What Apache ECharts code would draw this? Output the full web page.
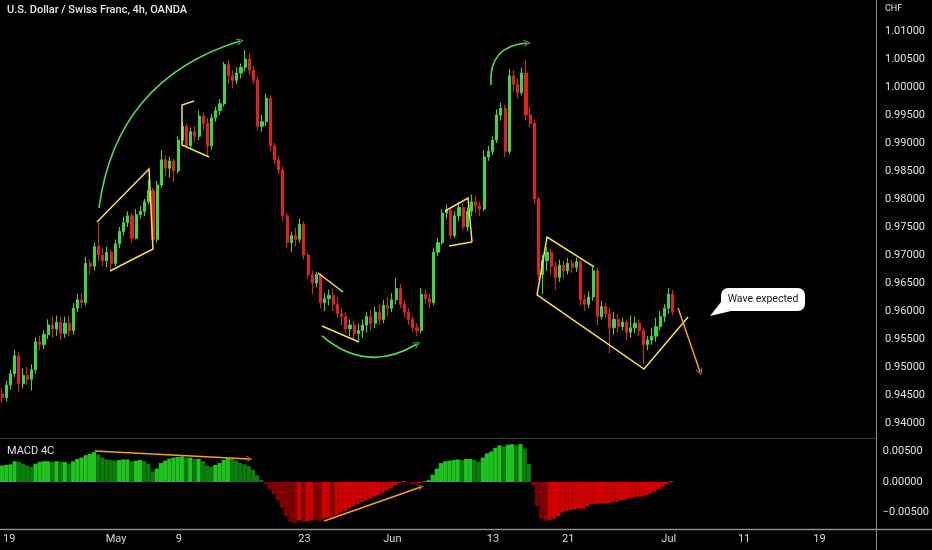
<!DOCTYPE html>
<html>
<head>
<meta charset="utf-8">
<script src="https://cdn.jsdelivr.net/npm/echarts@6/dist/echarts.min.js"></script>
<style>
html,body{margin:0;padding:0;background:#000;}
#c{width:932px;height:550px;}
</style>
</head>
<body>
<div id="c"></div>
<script>
// ---------- DATA ----------
// 8h sessions (3 per trading day) starting Apr 19; [open, close, low, high]
const candles = [
[0.9452,0.9445,0.9436,0.9462],[0.9445,0.9468,0.9438,0.9475],[0.9468,0.9488,0.9460,0.9495],[0.9488,0.9520,0.9482,0.9530],
[0.9520,0.9470,0.9455,0.9526],[0.9470,0.9485,0.9462,0.9498],[0.9485,0.9478,0.9468,0.9500],[0.9478,0.9495,0.9458,0.9505],
[0.9495,0.9545,0.9488,0.9553],[0.9545,0.9540,0.9530,0.9556],[0.9540,0.9558,0.9532,0.9565],[0.9558,0.9575,0.9550,0.9585],
[0.9575,0.9568,0.9552,0.9590],[0.9568,0.9580,0.9555,0.9592],[0.9580,0.9560,0.9548,0.9590],[0.9560,0.9578,0.9552,0.9590],
[0.9578,0.9565,0.9555,0.9592],[0.9565,0.9605,0.9558,0.9614],[0.9605,0.9620,0.9598,0.9630],[0.9620,0.9615,0.9605,0.9632],
[0.9615,0.9685,0.9610,0.9697],[0.9685,0.9680,0.9665,0.9692],[0.9680,0.9715,0.9672,0.9722],[0.9715,0.9700,0.9690,0.9759],
[0.9700,0.9690,0.9680,0.9712],[0.9690,0.9705,0.9678,0.9715],[0.9705,0.9685,0.9672,0.9710],[0.9685,0.9720,0.9680,0.9728],
[0.9720,0.9742,0.9712,0.9750],[0.9742,0.9758,0.9735,0.9768],[0.9758,0.9770,0.9750,0.9778],[0.9770,0.9730,0.9722,0.9775],
[0.9730,0.9772,0.9728,0.9782],[0.9772,0.9778,0.9765,0.9788],[0.9778,0.9795,0.9770,0.9800],[0.9795,0.9815,0.9790,0.9834],
[0.9815,0.9728,0.9720,0.9820],[0.9728,0.9825,0.9722,0.9832],[0.9825,0.9870,0.9820,0.9887],[0.9870,0.9855,0.9840,0.9878],
[0.9855,0.9868,0.9838,0.9875],[0.9868,0.9850,0.9830,0.9872],[0.9850,0.9905,0.9845,0.9912],[0.9905,0.9930,0.9898,0.9938],
[0.9930,0.9895,0.9890,0.9935],[0.9895,0.9920,0.9890,0.9928],[0.9920,0.9912,0.9902,0.9930],[0.9912,0.9948,0.9905,0.9958],
[0.9948,0.9935,0.9922,0.9955],[0.9935,0.9895,0.9875,0.9945],[0.9895,0.9945,0.9888,0.9952],[0.9945,0.9958,0.9938,0.9965],
[0.9958,0.9970,0.9950,0.9978],[0.9970,1.0040,0.9965,1.0045],[1.0040,1.0020,1.0005,1.0048],[1.0020,1.0012,0.9998,1.0030],
[1.0012,1.0025,1.0005,1.0035],[1.0025,1.0035,1.0015,1.0042],[1.0035,1.0050,1.0028,1.0066],[1.0050,1.0030,1.0022,1.0060],
[1.0030,1.0012,1.0005,1.0038],[1.0012,0.9930,0.9922,1.0018],[0.9930,0.9938,0.9920,0.9950],[0.9938,0.9980,0.9930,0.9988],
[0.9980,0.9895,0.9885,0.9985],[0.9895,0.9870,0.9862,0.9900],[0.9870,0.9852,0.9845,0.9878],[0.9852,0.9770,0.9760,0.9858],
[0.9770,0.9722,0.9712,0.9775],[0.9722,0.9735,0.9705,0.9742],[0.9735,0.9728,0.9715,0.9748],[0.9728,0.9755,0.9722,0.9765],
[0.9755,0.9700,0.9692,0.9760],[0.9700,0.9665,0.9658,0.9705],[0.9665,0.9650,0.9630,0.9672],[0.9650,0.9665,0.9642,0.9670],
[0.9665,0.9615,0.9605,0.9668],[0.9615,0.9622,0.9600,0.9632],[0.9622,0.9628,0.9610,0.9638],[0.9628,0.9612,0.9600,0.9640],
[0.9612,0.9595,0.9588,0.9625],[0.9595,0.9590,0.9575,0.9605],[0.9590,0.9568,0.9560,0.9598],[0.9568,0.9575,0.9555,0.9585],
[0.9575,0.9560,0.9550,0.9582],[0.9560,0.9565,0.9548,0.9578],[0.9565,0.9575,0.9552,0.9585],[0.9575,0.9590,0.9562,0.9598],
[0.9590,0.9578,0.9565,0.9602],[0.9578,0.9598,0.9570,0.9608],[0.9598,0.9585,0.9575,0.9612],[0.9585,0.9610,0.9578,0.9620],
[0.9610,0.9605,0.9590,0.9625],[0.9605,0.9620,0.9598,0.9632],[0.9620,0.9640,0.9612,0.9659],[0.9640,0.9612,0.9605,0.9648],
[0.9612,0.9598,0.9588,0.9620],[0.9598,0.9585,0.9575,0.9605],[0.9585,0.9570,0.9562,0.9592],[0.9570,0.9565,0.9555,0.9578],
[0.9565,0.9630,0.9560,0.9641],[0.9630,0.9622,0.9612,0.9638],[0.9622,0.9615,0.9605,0.9630],[0.9615,0.9705,0.9610,0.9712],
[0.9705,0.9722,0.9698,0.9730],[0.9722,0.9775,0.9718,0.9782],[0.9775,0.9780,0.9765,0.9790],[0.9780,0.9735,0.9728,0.9785],
[0.9735,0.9770,0.9730,0.9778],[0.9770,0.9785,0.9760,0.9795],[0.9785,0.9750,0.9745,0.9792],[0.9750,0.9778,0.9742,0.9785],
[0.9778,0.9795,0.9770,0.9808],[0.9795,0.9788,0.9775,0.9805],[0.9788,0.9782,0.9770,0.9795],[0.9782,0.9875,0.9778,0.9887],
[0.9875,0.9885,0.9868,0.9895],[0.9885,0.9905,0.9878,0.9912],[0.9905,0.9950,0.9900,0.9960],[0.9950,0.9962,0.9940,0.9972],
[0.9962,0.9885,0.9875,0.9968],[0.9885,1.0020,0.9880,1.0032],[1.0020,1.0005,0.9992,1.0030],[1.0005,0.9990,0.9980,1.0015],
[0.9990,1.0025,0.9985,1.0035],[1.0025,0.9950,0.9940,1.0048],[0.9950,0.9935,0.9928,0.9965],[0.9935,0.9800,0.9790,0.9942],
[0.9800,0.9665,0.9655,0.9805],[0.9665,0.9690,0.9630,0.9700],[0.9690,0.9705,0.9672,0.9714],[0.9705,0.9680,0.9665,0.9712],
[0.9680,0.9660,0.9638,0.9688],[0.9660,0.9682,0.9652,0.9692],[0.9682,0.9672,0.9658,0.9690],[0.9672,0.9685,0.9665,0.9695],
[0.9685,0.9678,0.9668,0.9692],[0.9678,0.9688,0.9670,0.9695],[0.9688,0.9620,0.9610,0.9692],[0.9620,0.9612,0.9600,0.9630],
[0.9612,0.9625,0.9605,0.9635],[0.9625,0.9672,0.9618,0.9679],[0.9672,0.9590,0.9575,0.9678],[0.9590,0.9608,0.9585,0.9618],
[0.9608,0.9595,0.9588,0.9615],[0.9595,0.9570,0.9525,0.9605],[0.9570,0.9585,0.9558,0.9598],[0.9585,0.9572,0.9562,0.9595],
[0.9572,0.9580,0.9565,0.9588],[0.9580,0.9562,0.9548,0.9585],[0.9562,0.9570,0.9552,0.9592],[0.9570,0.9578,0.9560,0.9590],
[0.9578,0.9565,0.9555,0.9585],[0.9565,0.9540,0.9505,0.9570],[0.9540,0.9548,0.9530,0.9555],[0.9548,0.9555,0.9540,0.9570],
[0.9555,0.9572,0.9545,0.9588],[0.9572,0.9590,0.9565,0.9600],[0.9590,0.9605,0.9580,0.9612],[0.9605,0.9630,0.9595,0.9641],
[0.9630,0.9598,0.9592,0.9638]
];

// MACD 4C histogram, one value per session
const macdHist = [
0.0027,0.0028,0.0029,0.0034,0.0033,0.0030,0.0027,0.0025,0.0030,0.0033,0.0034,0.0034,0.0033,0.0034,0.0033,0.0033,
0.0030,0.0034,0.0038,0.0040,0.0044,0.0046,0.0049,0.0045,0.0040,0.0037,0.0036,0.0035,0.0036,0.0037,0.0037,0.0034,
0.0035,0.0036,0.0034,0.0030,0.0017,0.0022,0.0031,0.0035,0.0038,0.0040,0.0041,0.0042,0.0040,0.0040,0.0038,0.0038,
0.0034,0.0027,0.0025,0.0028,0.0031,0.0036,0.0039,0.0038,0.0035,0.0031,0.0029,0.0026,0.0020,0.0011,0.0003,-0.0003,
-0.0012,-0.0020,-0.0030,-0.0043,-0.0056,-0.0065,-0.0067,-0.0063,-0.0065,-0.0064,-0.0062,-0.0063,-0.0064,-0.0060,-0.0058,-0.0060,
-0.0054,-0.0050,-0.0047,-0.0043,-0.0040,-0.0036,-0.0033,-0.0030,-0.0027,-0.0024,-0.0021,-0.0018,-0.0014,-0.0010,-0.0005,-0.0002,
0.0001,-0.0001,-0.0003,-0.0004,-0.0002,0.0001,0.0003,0.0012,0.0022,0.0031,0.0034,0.0035,0.0036,0.0037,0.0036,0.0038,
0.0038,0.0036,0.0033,0.0040,0.0047,0.0050,0.0056,0.0060,0.0058,0.0061,0.0062,0.0060,0.0062,0.0055,0.0030,-0.0005,
-0.0040,-0.0060,-0.0064,-0.0062,-0.0060,-0.0056,-0.0050,-0.0047,-0.0046,-0.0045,-0.0044,-0.0044,-0.0040,-0.0036,-0.0036,-0.0035,
-0.0035,-0.0035,-0.0033,-0.0032,-0.0030,-0.0029,-0.0027,-0.0025,-0.0024,-0.0024,-0.0022,-0.0019,-0.0016,-0.0012,-0.0008,-0.0004,
0.0001
];

const sessionsPerDay = 3;
const totalSlots = 209;                       // visible slots incl. empty future space
const tickDays = [0, 9, 14, 24, 31, 39, 45, 53, 59, 65];   // trading-day index from Apr 19
const tickLabels = ['19', 'May', '9', '23', 'Jun', '13', '21', 'Jul', '11', '19'];

// Drawings, in [session index, price]
const channelUp1 = [[22.64, 0.97589], [35.05, 0.98536], [36.0, 0.97107], [25.75, 0.96714]];
const flag1 = [[45.79, 0.99750], [42.93, 0.99679], [42.93, 0.98964], [49.37, 0.98750]];
const wedgeTop = [[75.38, 0.96679], [81.34, 0.96339]];
const wedgeBottom = [[76.33, 0.95732], [85.16, 0.95446]];
const flag2Top = [[105.68, 0.97786], [111.17, 0.98018], [112.12, 0.97232]];
const flag2Bottom = [[106.63, 0.97161], [112.12, 0.97232]];
const bigChannel = [[141.23, 0.96786], [130.02, 0.97321], [127.63, 0.96286], [153.16, 0.94964], [163.66, 0.95893]];
const arrowDown = [[161.28, 0.96054], [166.53, 0.94911]];
const arc1 = [[23.12, 0.97839], [56.77, 1.00821]];
const arc2 = [[76.33, 0.95554], [99.0, 0.95411]];
const arc3 = [[116.66, 1.00036], [125.25, 1.00786]];
const macdArrow1 = [[22.17, 0.00508], [59.15, 0.00377]];
const macdArrow2 = [[77.05, -0.00639], [100.19, -0.00082]];
const calloutAnchor = [168.9, 0.95911];
const calloutText = 'Wave expected';

// ---------- BUILD ----------
const slots = [];
const labelAt = {};
tickDays.forEach((d, i) => { labelAt[d * sessionsPerDay] = tickLabels[i]; });
for (let i = 0; i < totalSlots; i++) slots.push('s' + i);

const UP = '#3cd83c', DOWN = '#e3201b';
const GREEN_ARC = '#4fdc4f', YELLOW = '#f3e24a', ORANGE = '#f5a020';
const FONT = 'Roboto, "Liberation Sans", sans-serif';
const CHEVRON = 'path://M0,10L10,0L20,10L17.6,10L10,2.4L2.4,10Z';

const macdData = macdHist.map((v, i) => {
  const prev = i > 0 ? macdHist[i - 1] : v;
  let c;
  if (v >= 0) c = v >= prev ? '#1fc21f' : '#0c7d0c';
  else c = v >= prev ? '#d00000' : '#800000';
  return { value: v, itemStyle: { color: c } };
});

const chart = echarts.init(document.getElementById('c'), null, { renderer: 'canvas' });

function priceFmt(v) {
  if (v < 0.9375 || v > 1.0125) return '';
  return v.toFixed(5);
}
function macdFmt(v) {
  if (Math.abs(v) > 0.0075) return '';
  if (Math.abs(v) < 1e-9) return '0.00000';
  return (v < 0 ? '\u2212' : '') + Math.abs(v).toFixed(5);
}

const hiddenVal = (g) => ({ type: 'value', gridIndex: g, min: -0.5, max: totalSlots - 0.5, show: false });
const hiddenCat = (g) => ({ type: 'category', gridIndex: g, data: slots, boundaryGap: true, show: false });

function lineSeries(xi, yi, coords, color, width, extra) {
  return Object.assign({
    type: 'lines', coordinateSystem: 'cartesian2d', xAxisIndex: xi, yAxisIndex: yi,
    silent: true, z: 10,
    lineStyle: { color: color, width: width, opacity: 1 },
    data: [{ coords: coords }]
  }, extra || {});
}
function arrowSeries(xi, yi, coords, color, width, curve, size) {
  return {
    type: 'lines', coordinateSystem: 'cartesian2d', xAxisIndex: xi, yAxisIndex: yi,
    silent: true, z: 11,
    symbol: ['none', CHEVRON], symbolSize: size,
    lineStyle: { color: color, width: width, opacity: 1, curveness: curve },
    data: [{ coords: coords }]
  };
}

const option = {
  backgroundColor: '#000000',
  animation: false,
  grid: [
    { left: 0, right: 56, top: 3, height: 448 },
    { left: 0, right: 56, top: 421, height: 122 },
    { left: 0, right: 56, top: 529, height: 1 }
  ],
  xAxis: [
    hiddenCat(0), hiddenVal(0), hiddenCat(1), hiddenVal(1),
    {
      type: 'category', gridIndex: 2, data: slots, boundaryGap: true,
      axisLine: { show: false }, axisTick: { show: false }, splitLine: { show: false },
      axisLabel: {
        interval: 0, margin: 4, color: '#d6d6d6', fontSize: 11, fontFamily: FONT,
        alignMinLabel: 'left',
        formatter: (val, idx) => labelAt[idx] || ''
      }
    }
  ],
  yAxis: [
    {
      type: 'value', gridIndex: 0, position: 'right', min: 0.935, max: 1.015, interval: 0.005,
      axisLine: { show: false }, axisTick: { show: false }, splitLine: { show: false },
      axisLabel: { margin: 9, color: '#e0e0e0', fontSize: 11, fontFamily: FONT, formatter: priceFmt }
    },
    {
      type: 'value', gridIndex: 1, position: 'right', min: -0.01, max: 0.01, interval: 0.005,
      axisLine: { show: false }, axisTick: { show: false }, splitLine: { show: false },
      axisLabel: { margin: 9, color: '#e0e0e0', fontSize: 11, fontFamily: FONT, formatter: macdFmt }
    },
    { type: 'value', gridIndex: 2, show: false }
  ],
  series: [
    {
      type: 'candlestick', xAxisIndex: 0, yAxisIndex: 0, data: candles, barWidth: 2.6,
      itemStyle: { color: UP, color0: DOWN, borderColor: UP, borderColor0: DOWN, borderWidth: 1 }
    },
    {
      type: 'bar', xAxisIndex: 2, yAxisIndex: 1, data: macdData, barCategoryGap: '0%', barGap: '0%'
    },
    lineSeries(1, 0, channelUp1, YELLOW, 1.5, { polyline: true }),
    lineSeries(1, 0, flag1, YELLOW, 1.5, { polyline: true }),
    lineSeries(1, 0, wedgeTop, YELLOW, 1.5, { polyline: true }),
    lineSeries(1, 0, wedgeBottom, YELLOW, 1.5, { polyline: true }),
    lineSeries(1, 0, flag2Top, YELLOW, 1.5, { polyline: true }),
    lineSeries(1, 0, flag2Bottom, YELLOW, 1.5, { polyline: true }),
    lineSeries(1, 0, bigChannel, YELLOW, 1.5, { polyline: true }),
    arrowSeries(1, 0, arrowDown, ORANGE, 1.5, 0, [13, 7]),
    arrowSeries(1, 0, arc1, GREEN_ARC, 1.6, 0.32, [13, 7]),
    arrowSeries(1, 0, arc2, GREEN_ARC, 1.6, -0.36, [13, 7]),
    arrowSeries(1, 0, arc3, GREEN_ARC, 1.6, 0.5, [13, 7]),
    arrowSeries(3, 1, macdArrow1, ORANGE, 1.5, 0, [11, 6]),
    arrowSeries(3, 1, macdArrow2, ORANGE, 1.5, 0, [11, 6])
  ]
};
chart.setOption(option);

// chrome + callout
const tip = chart.convertToPixel({ xAxisIndex: 1, yAxisIndex: 0 }, calloutAnchor);
const tx = tip[0], ty = tip[1];
chart.setOption({
  graphic: [
    { type: 'line', silent: true, shape: { x1: 0, y1: 438.5, x2: 876, y2: 438.5 }, style: { stroke: '#3c3c3c', lineWidth: 1 } },
    { type: 'line', silent: true, shape: { x1: 0, y1: 529.5, x2: 932, y2: 529.5 }, style: { stroke: '#8c8c8c', lineWidth: 1.5 } },
    { type: 'line', silent: true, shape: { x1: 876.5, y1: 0, x2: 876.5, y2: 550 }, style: { stroke: '#8c8c8c', lineWidth: 1 } },
    { type: 'text', silent: true, left: 7, top: 5, style: { text: 'U.S. Dollar / Swiss Franc, 4h, OANDA', fill: '#e6e6e6', font: '500 11px ' + FONT } },
    { type: 'text', silent: true, left: 7, top: 446, style: { text: 'MACD 4C', fill: '#e0e0e0', font: '11px ' + FONT } },
    { type: 'text', silent: true, left: 885, top: 4, style: { text: 'CHF', fill: '#e0e0e0', font: '9px ' + FONT } },
    {
      type: 'group', silent: true, children: [
        { type: 'polygon', shape: { points: [[tx, ty], [tx + 11, ty - 14], [tx + 21, ty - 5]] }, style: { fill: '#ffffff' } },
        { type: 'rect', shape: { x: tx + 11, y: ty - 28, width: 84, height: 23, r: 7 }, style: { fill: '#ffffff' } },
        { type: 'text', style: { text: calloutText, x: tx + 53, y: ty - 16.5, align: 'center', verticalAlign: 'middle', fill: '#131722', font: '10.5px ' + FONT } }
      ]
    }
  ]
});
</script>
</body>
</html>
